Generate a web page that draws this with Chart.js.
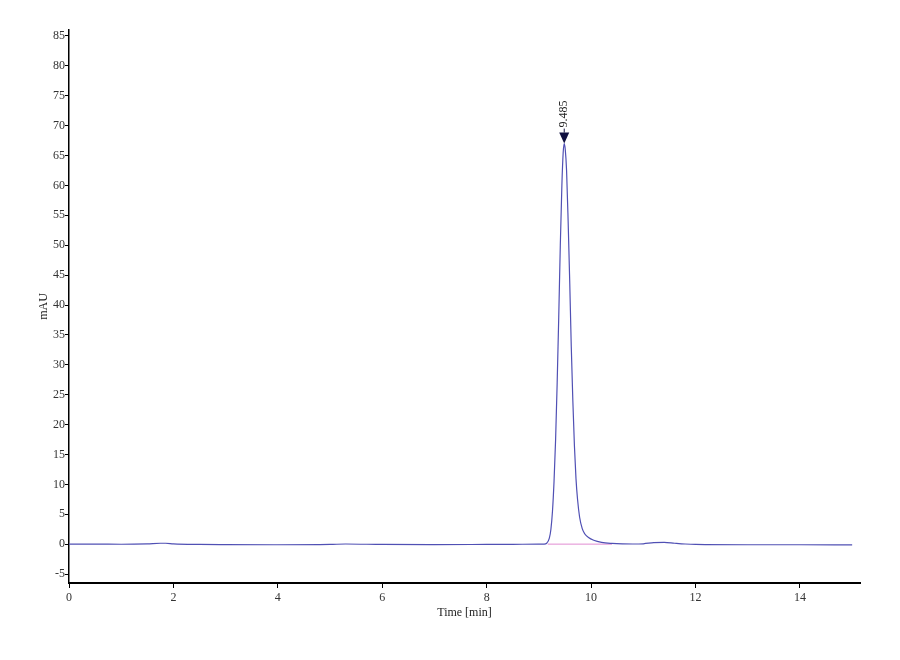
<!DOCTYPE html>
<html>
<head>
<meta charset="utf-8">
<script src="https://cdn.jsdelivr.net/npm/chart.js@4.4.1/dist/chart.umd.min.js"></script>
<style>
html,body{margin:0;padding:0;background:#fff;}
#wrap{width:900px;height:660px;position:relative;}
</style>
</head>
<body>
<div id="wrap"><canvas id="c" width="900" height="660"></canvas></div>
<script>
// ---- data ----
const timeMin = [0, 0.5, 1.0, 1.5, 1.75, 1.85, 2.0, 2.5, 3, 4, 5, 5.3, 6, 7, 8, 8.5, 9.0, 9.10,
  9.15, 9.20, 9.23, 9.26, 9.29, 9.32, 9.35, 9.38, 9.41, 9.44, 9.465, 9.485, 9.505, 9.53, 9.56,
  9.59, 9.62, 9.65, 9.68, 9.71, 9.74, 9.78, 9.83, 9.88, 9.95, 10.05, 10.2, 10.4, 10.6, 10.8,
  11.0, 11.2, 11.4, 11.6, 11.8, 12, 13, 14, 15];
const signalMAU = [0, 0, -0.02, 0.05, 0.15, 0.15, 0.05, -0.05, -0.08, -0.1, -0.05, 0.02, -0.05, -0.08, -0.05, -0.03, 0.0, 0.0,
  0.15, 1.0, 2.5, 5.5, 10.5, 17.5, 27, 38, 50, 60, 65.5, 67, 66, 62.5, 54,
  44, 33, 24, 16.5, 11, 7.5, 4.5, 2.6, 1.7, 1.1, 0.65, 0.3, 0.12, 0.04, 0.02,
  0.06, 0.25, 0.3, 0.15, 0.02, -0.05, -0.1, -0.1, -0.12];
const baselineTime = [9.17, 10.4];
const baselineMAU = [0, 0];
const peakTime = 9.485;
const peakHeight = 67;
const peakLabel = "9.485";
const xTickValues = [0, 2, 4, 6, 8, 10, 12, 14];
const yTickValues = [-5, 0, 5, 10, 15, 20, 25, 30, 35, 40, 45, 50, 55, 60, 65, 70, 75, 80, 85];
const xTitle = "Time [min]";
const yTitle = "mAU";

const FONT = "'Liberation Serif', 'DejaVu Serif', serif";

const peakPlugin = {
  id: 'peakMarker',
  afterDatasetsDraw(chart) {
    const ctx = chart.ctx;
    const xs = chart.scales.x, ys = chart.scales.y;
    const px = xs.getPixelForValue(peakTime);
    const py = ys.getPixelForValue(peakHeight);
    ctx.save();
    ctx.fillStyle = '#101040';
    ctx.beginPath();
    ctx.moveTo(px, py);
    ctx.lineTo(px - 5, py - 11);
    ctx.lineTo(px + 5, py - 11);
    ctx.closePath();
    ctx.fill();
    ctx.strokeStyle = '#101040';
    ctx.lineWidth = 1;
    ctx.beginPath();
    ctx.moveTo(px, py - 11);
    ctx.lineTo(px, py - 15);
    ctx.stroke();
    ctx.translate(px, py - 15);
    ctx.rotate(-Math.PI / 2);
    ctx.fillStyle = '#222';
    ctx.font = "12px " + FONT;
    ctx.textAlign = 'left';
    ctx.textBaseline = 'middle';
    ctx.fillText(peakLabel, 1, 0);
    ctx.restore();
  }
};

new Chart(document.getElementById('c'), {
  type: 'line',
  data: {
    datasets: [
      {
        label: 'baseline',
        data: baselineTime.map((t, i) => ({x: t, y: baselineMAU[i]})),
        borderColor: 'rgb(225,140,210)',
        borderWidth: 1,
        pointRadius: 0,
        tension: 0,
        order: 2
      },
      {
        label: 'signal',
        data: timeMin.map((t, i) => ({x: t, y: signalMAU[i]})),
        borderColor: 'rgb(80,80,180)',
        borderWidth: 1.2,
        pointRadius: 0,
        cubicInterpolationMode: 'monotone',
        order: 1
      }
    ]
  },
  options: {
    responsive: false,
    animation: false,
    layout: {padding: {left: 0, top: 30, right: 40, bottom: 0}},
    plugins: {legend: {display: false}, tooltip: {enabled: false}},
    scales: {
      x: {
        type: 'linear',
        min: 0, max: 15.15,
        afterFit(s) { s.height = 77; },
        afterBuildTicks(s) { s.ticks = xTickValues.map(v => ({value: v})); },
        grid: {display: true, drawOnChartArea: false, drawTicks: true, tickLength: 5, color: '#000', lineWidth: 1},
        border: {display: true, color: '#000', width: 2},
        ticks: {color: '#333', font: {family: FONT, size: 12}, padding: 3, maxRotation: 0, autoSkip: false},
        title: {display: true, text: xTitle, color: '#222', font: {family: FONT, size: 12}, padding: {top: 0, bottom: 40}}
      },
      y: {
        type: 'linear',
        min: -6.5, max: 86,
        afterFit(s) { s.width = 69; },
        afterBuildTicks(s) { s.ticks = yTickValues.map(v => ({value: v})); },
        grid: {display: true, drawOnChartArea: false, drawTicks: true, tickLength: 4, color: '#000', lineWidth: 1},
        border: {display: true, color: '#000', width: 1.5},
        ticks: {color: '#333', font: {family: FONT, size: 12}, padding: 0, autoSkip: false},
        title: {display: true, text: yTitle, color: '#222', font: {family: FONT, size: 12}, padding: {top: 37, bottom: 0}}
      }
    }
  },
  plugins: [peakPlugin]
});
</script>
</body>
</html>
